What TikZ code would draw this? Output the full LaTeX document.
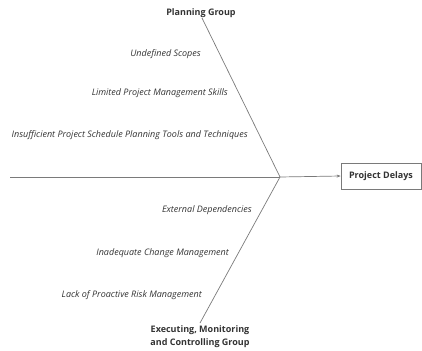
\documentclass[tikz,border=0pt]{standalone}
\usepackage{fontspec}
\setmainfont{Open Sans}
\usetikzlibrary{arrows.meta}
\definecolor{bone}{HTML}{7A7A7A}
\definecolor{ink}{HTML}{333333}
\begin{document}
\begin{tikzpicture}[x=1pt,y=-1pt,
  bonestyle/.style={draw=bone,line width=0.7pt},
  cause/.style={anchor=east,inner sep=0pt,text=ink,font=\fontsize{9}{11}\selectfont\itshape},
  group/.style={inner sep=0pt,text=ink,align=center,font=\fontsize{9}{12.5}\selectfont\bfseries},
  effect/.style={draw=bone,line width=0.7pt,fill=white,minimum width=80pt,minimum height=26pt,inner sep=0pt,text=ink,font=\fontsize{9}{11}\selectfont\bfseries}]
\useasboundingbox (0,0) rectangle (422,350);

% spine and effect box
\coordinate (tail) at (10,177);
\coordinate (head) at (280,177);
\node[effect] (delays) at (381,176) {Project Delays};

% category bones
\coordinate (plantop) at (202,18);
\coordinate (exectop) at (200,323);
\node[group] (plan) at (201,13) {Planning Group};
\node[group] (exec) at (200,336.5) {Executing, Monitoring\\and Controlling Group};

\draw[bonestyle] (tail) -- (head);
\draw[bonestyle,-{Stealth[length=4pt,width=3pt]}] (head) -- (delays.west);
\draw[bonestyle] (plantop) -- (head);
\draw[bonestyle] (exectop) -- (head);

% causes
\node[cause] (c1) at (201,54) {Undefined Scopes};
\node[cause] (c2) at (228,93) {Limited Project Management Skills};
\node[cause] (c3) at (248,135) {Insufficient Project Schedule Planning Tools and Techniques};
\node[cause] (c4) at (252,210) {External Dependencies};
\node[cause] (c5) at (229,253) {Inadequate Change Management};
\node[cause] (c6) at (202,295) {Lack of Proactive Risk Management};
\end{tikzpicture}
\end{document}
